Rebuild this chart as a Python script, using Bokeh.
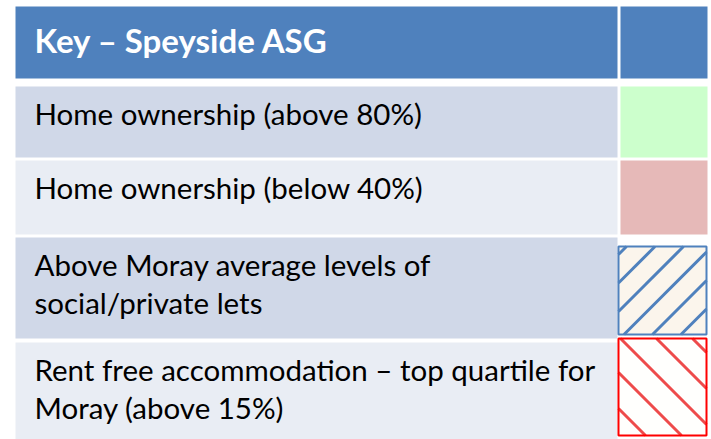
from bokeh.plotting import figure
from bokeh.models import Range1d
from bokeh.core.properties import value
from bokeh.embed import file_html
from bokeh.resources import INLINE

# ---- data ----
title = "Key – Speyside ASG"
labels = [
    "Home ownership (above  80%)",
    "Home ownership (below 40%)",
    "Above Moray average levels of\nsocial/private lets",
    "Rent free accommodation – top quartile for\nMoray (above 15%)",
]
row_fills = ["#D0D8E8", "#E9EDF4", "#D0D8E8", "#E9EDF4"]
swatch_fills = ["#CCFFCC", "#E6B9B8", "#FBF5EC", "#FFFFFD"]
swatch_lines = [None, None, "#4F81BD", "#FF0000"]
swatch_hatch = [None, None, "/", "\\"]
hatch_colors = [None, None, "#4F81BD", "#EE4B4B"]

# ---- layout (page px coordinates) ----
W, H = 711, 439
x_left, x_split_l, x_split_r, x_right = 15, 617, 620, 707
header_top, header_bot = 6, 78
row_tops = [86, 160, 237, 342]
row_bots = [157, 234, 338, 445]
swatch_tops = [86, 160, 246, 338]
swatch_bots = [157, 234, 334, 435]
swatch_lefts = [620, 620, 618, 618]
swatch_rights = [707, 707, 706, 706]
hatch_offsets = [0, 0, 872, -282]
hatch_steps = [0, 0, 28.5, 36]
line_gap = 38
first_base = 27

p = figure(width=W, height=H, output_backend="svg", toolbar_location=None,
           x_range=Range1d(0, W), y_range=Range1d(H, 0),
           min_border=0)
p.axis.visible = False
p.grid.visible = False
p.outline_line_color = None
p.background_fill_color = "white"
p.border_fill_color = "white"

# header
p.quad(left=[x_left, x_split_r], right=[x_split_l, x_right],
       top=[header_top] * 2, bottom=[header_bot] * 2,
       fill_color="#4F81BD", line_color=None)
p.text(x=[34], y=[header_top + 33], text=[title], text_color="white",
       text_font=value("Lato"), text_font_style="bold", text_font_size="33px",
       text_baseline="alphabetic", text_align="left")

# rows
p.quad(left=[x_left] * 4, right=[x_split_l] * 4, top=row_tops, bottom=row_bots,
       fill_color=row_fills, line_color=None)


def hatch_segments(x0, x1, y0, y1, c0, step, kind):
    sx0, sy0, sx1, sy1 = [], [], [], []
    k_lo, k_hi = -40, 40
    for k in range(k_lo, k_hi):
        c = c0 + k * step
        if kind == "/":          # x + y = c
            a, b = max(x0, c - y1), min(x1, c - y0)
            if a < b:
                sx0.append(a); sy0.append(c - a); sx1.append(b); sy1.append(c - b)
        else:                    # y - x = c
            a, b = max(x0, y0 - c), min(x1, y1 - c)
            if a < b:
                sx0.append(a); sy0.append(a + c); sx1.append(b); sy1.append(b + c)
    return sx0, sy0, sx1, sy1


for i in range(4):
    l, r, t, b = swatch_lefts[i], swatch_rights[i], swatch_tops[i], swatch_bots[i]
    p.quad(left=[l], right=[r], top=[t], bottom=[b],
           fill_color=swatch_fills[i], line_color=None)
    if swatch_hatch[i] is not None:
        sx0, sy0, sx1, sy1 = hatch_segments(l, r, t, b, hatch_offsets[i],
                                            hatch_steps[i], swatch_hatch[i])
        p.segment(x0=sx0, y0=sy0, x1=sx1, y1=sy1, line_color=hatch_colors[i],
                  line_width=3, line_cap="butt")
        p.quad(left=[l], right=[r], top=[t], bottom=[b], fill_color=None,
               line_color=swatch_lines[i], line_width=2)

xs, ys, ts = [], [], []
for i, lab in enumerate(labels):
    for j, line in enumerate(lab.split("\n")):
        xs.append(34)
        ys.append(row_tops[i] + first_base + j * line_gap)
        ts.append(line)
p.text(x=xs, y=ys, text=ts, text_color="black",
       text_font=value("Lato"), text_font_size="29.5px",
       text_baseline="alphabetic", text_align="left")

open("out.html", "w").write(file_html(p, INLINE))
